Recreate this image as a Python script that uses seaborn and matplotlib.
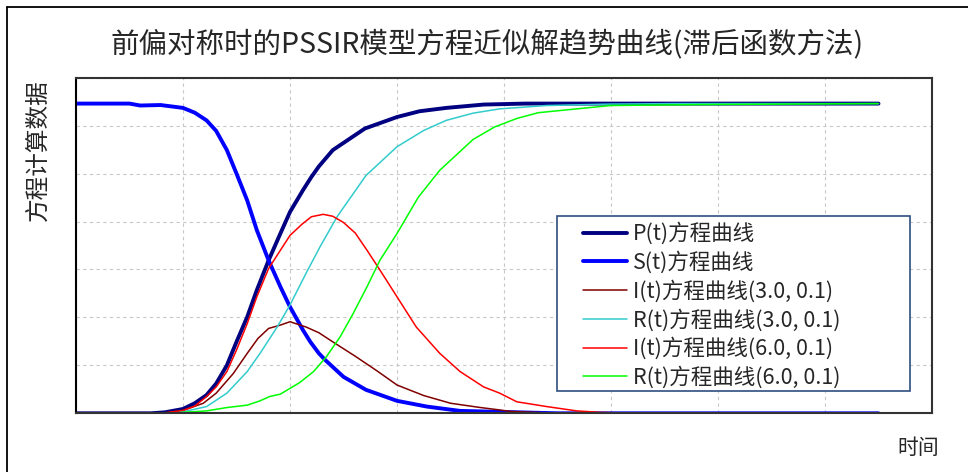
import matplotlib
matplotlib.use("Agg")
import matplotlib.pyplot as plt
import matplotlib.lines as mlines
import matplotlib.patches as mpatches
import seaborn as sns
import pandas as pd

# ---------------- data ----------------
title = "前偏对称时的PSSIR模型方程近似解趋势曲线(滞后函数方法)"
ylabel = "方程计算数据"
xlabel = "时间"

labels = ["P(t)方程曲线", "S(t)方程曲线", "I(t)方程曲线(3.0, 0.1)",
          "R(t)方程曲线(3.0, 0.1)", "I(t)方程曲线(6.0, 0.1)", "R(t)方程曲线(6.0, 0.1)"]

p_t = [0, 0.7, 0.83, 1.0, 1.11, 1.22, 1.31, 1.41, 1.50, 1.60, 1.69, 1.80, 1.91, 2.0,
       2.12, 2.20, 2.27, 2.40, 2.70, 3.0, 3.21, 3.46, 3.81, 4.2, 7.5]
p_v = [0, 0, 0.02, 0.09, 0.21, 0.38, 0.62, 1.0, 1.49, 2.01, 2.57, 3.19, 3.75, 4.2,
       4.65, 4.93, 5.15, 5.49, 5.94, 6.18, 6.30, 6.37, 6.44, 6.46, 6.46]

s_t = [0, 0.5, 0.6, 0.79, 1.0, 1.11, 1.22, 1.31, 1.41, 1.50, 1.60, 1.69, 1.80, 1.91,
       2.0, 2.12, 2.19, 2.27, 2.33, 2.50, 2.71, 3.0, 3.28, 3.59, 3.96, 4.5, 7.5]
s_v = [6.46, 6.46, 6.42, 6.43, 6.37, 6.27, 6.11, 5.89, 5.49, 5.0, 4.44, 3.82, 3.19, 2.64,
       2.22, 1.74, 1.49, 1.25, 1.11, 0.76, 0.49, 0.26, 0.14, 0.05, 0.03, 0, 0]

i3_t = [0, 0.8, 1.0, 1.19, 1.31, 1.47, 1.60, 1.70, 1.80, 1.91, 2.0, 2.15, 2.27, 2.40,
        2.61, 2.81, 3.0, 3.25, 3.50, 3.78, 3.96, 4.06, 4.5, 7.5]
i3_v = [0, 0, 0.06, 0.21, 0.42, 0.83, 1.25, 1.56, 1.77, 1.84, 1.91, 1.80, 1.68, 1.49,
        1.19, 0.89, 0.59, 0.37, 0.21, 0.12, 0.07, 0.04, 0, 0]

r3_t = [0, 0.85, 1.0, 1.22, 1.41, 1.60, 1.72, 1.88, 2.0, 2.15, 2.28, 2.44, 2.71, 3.0,
        3.25, 3.46, 3.71, 3.96, 4.4, 5.0, 5.6, 7.5]
r3_v = [0, 0, 0.03, 0.14, 0.42, 0.87, 1.25, 1.80, 2.26, 2.92, 3.47, 4.10, 4.96, 5.56,
        5.90, 6.11, 6.26, 6.35, 6.42, 6.45, 6.46, 6.46]

i6_t = [0, 0.8, 1.0, 1.11, 1.22, 1.31, 1.41, 1.50, 1.60, 1.69, 1.80, 1.91, 2.0, 2.11,
        2.20, 2.31, 2.40, 2.50, 2.61, 2.72, 2.84, 3.0, 3.18, 3.40, 3.59, 3.81, 3.96,
        4.12, 4.40, 4.68, 4.90, 5.2, 7.5]
i6_v = [0, 0, 0.06, 0.15, 0.35, 0.55, 0.87, 1.32, 1.87, 2.43, 3.02, 3.40, 3.71, 3.94,
        4.10, 4.15, 4.11, 3.98, 3.76, 3.40, 2.99, 2.43, 1.80, 1.25, 0.87, 0.55, 0.42,
        0.24, 0.14, 0.05, 0.02, 0, 0]

r6_t = [0, 0.9, 1.0, 1.22, 1.41, 1.60, 1.72, 1.81, 1.91, 2.0, 2.09, 2.22, 2.34, 2.47,
        2.59, 2.72, 2.84, 3.0, 3.20, 3.40, 3.71, 3.91, 4.12, 4.32, 4.68, 5.0, 5.86, 7.5]
r6_v = [0, 0, 0.02, 0.05, 0.12, 0.17, 0.26, 0.35, 0.40, 0.52, 0.64, 0.87, 1.18, 1.60,
        2.08, 2.64, 3.19, 3.75, 4.51, 5.07, 5.71, 5.97, 6.15, 6.27, 6.35, 6.42, 6.44, 6.46]

series_t = [p_t, s_t, i3_t, r3_t, i6_t, r6_t]
series_v = [p_v, s_v, i3_v, r3_v, i6_v, r6_v]

colors = ["#000080", "#0000FF", "#800000", "#33CCCC", "#FF0000", "#00FF00"]
widths = [2.8, 2.8, 1.1, 1.1, 1.1, 1.1]

# ---------------- drawing ----------------
sns.set_theme(style="white")
plt.rcParams["font.family"] = ["Noto Sans CJK SC", "DejaVu Sans"]

W, H = 968, 472
AX_L, AX_R, AX_T, AX_B = 76, 932, 77.7, 413.3

fig = plt.figure(figsize=(W / 100, H / 100), dpi=100)
ax = fig.add_axes([AX_L / W, 1 - AX_B / H, (AX_R - AX_L) / W, (AX_B - AX_T) / H])


def ax_x(px):
    return (px - AX_L) / (AX_R - AX_L)


def ax_y(py):
    return 1 - (py - AX_T) / (AX_B - AX_T)


for lab, tt, vv, c, w in zip(labels, series_t, series_v, colors, widths):
    df = pd.DataFrame({"t": tt, "v": vv})
    sns.lineplot(data=df, x="t", y="v", ax=ax, color=c, linewidth=w,
                 label=lab, estimator=None, sort=False)

ax.set_xlim(0, 8)
ax.set_ylim(0, 7)
ax.set_xticks(range(0, 9))
ax.set_yticks(range(0, 8))
ax.set_xticklabels([])
ax.set_yticklabels([])
ax.tick_params(length=0)
ax.set_xlabel("")
ax.set_ylabel("")
ax.grid(True, color="#c8c8c8", linestyle=(0, (3, 3)), linewidth=0.8)
for side in ["top", "right", "bottom", "left"]:
    ax.spines[side].set_visible(True)
    ax.spines[side].set_linewidth(1.5)
    ax.spines[side].set_color("#333333")
ax.spines["left"].set_color("black")

# legend box (drawn separately so its size matches the reference)
box = mpatches.Rectangle((ax_x(557), ax_y(391)), ax_x(910) - ax_x(557),
                         ax_y(216) - ax_y(391), transform=ax.transAxes,
                         facecolor="white", edgecolor="#2F4F7F", linewidth=1.2,
                         zorder=4)
ax.add_patch(box)

handles = [mlines.Line2D([], [], color=c, linewidth=w) for c, w in zip(colors, widths)]
leg = ax.legend(handles, labels, loc="upper left",
                bbox_to_anchor=(ax_x(583), ax_y(222.5)),
                frameon=False, fontsize=15.5, handlelength=2.05,
                handletextpad=0.25, labelspacing=0.285, borderpad=0,
                borderaxespad=0)
leg.set_zorder(5)

fig.text(487 / W, 1 - 45 / H, title, ha="center", va="center", fontsize=20.5)
fig.text(38 / W, 1 - 150 / H, ylabel, ha="center", va="center",
         rotation=90, fontsize=17)
fig.text(918 / W, 1 - 448 / H, xlabel, ha="center", va="center", fontsize=15)

# outer frame (top and left only, as in the reference)
fig.add_artist(mlines.Line2D([7 / W, 1.0], [1 - 7 / H, 1 - 7 / H],
                             transform=fig.transFigure, color="black", linewidth=1.3))
fig.add_artist(mlines.Line2D([7 / W, 7 / W], [0, 1 - 7 / H],
                             transform=fig.transFigure, color="black", linewidth=1.3))

fig.savefig("out.png", dpi=100)
